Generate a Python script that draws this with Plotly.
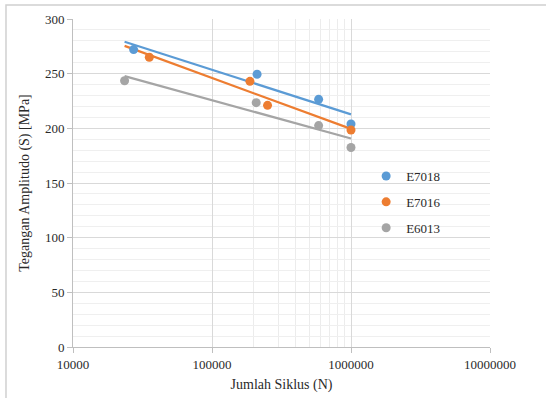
import numpy as np
import plotly.graph_objects as go

series_names = ["E7018", "E7016", "E6013"]
colors = ["#5B9BD5", "#ED7D31", "#A5A5A5"]
cycles_e7018 = [27300, 211000, 585000, 1000000]
stress_e7018 = [272, 249.5, 226.5, 204]
cycles_e7016 = [35400, 187500, 251000, 1000000]
stress_e7016 = [265, 243, 221, 198.5]
cycles_e6013 = [23500, 208000, 585000, 1000000]
stress_e6013 = [243.5, 223.5, 202.5, 182.5]

x_data = [cycles_e7018, cycles_e7016, cycles_e6013]
y_data = [stress_e7018, stress_e7016, stress_e6013]

x_tick_vals = [10000, 100000, 1000000, 10000000]
x_tick_text = ["10000", "100000", "1000000", "10000000"]
x_minor_vals = [200000, 300000, 400000, 500000, 600000, 700000, 800000, 900000]

serif = "Liberation Serif"
txt_col = "#2a2a2a"

fig = go.Figure()

all_x = [v for xs in x_data for v in xs]
x_lo, x_hi = min(all_x), max(all_x)

# trendlines (logarithmic fit), drawn from fitted values
for name, col, xs, ys in zip(series_names, colors, x_data, y_data):
    lx = np.log10(xs)
    slope, intercept = np.polyfit(lx, ys, 1)
    tx = [x_lo, x_hi]
    ty = [slope * np.log10(v) + intercept for v in tx]
    fig.add_trace(go.Scatter(x=tx, y=ty, mode="lines",
                             line=dict(color=col, width=2.2),
                             showlegend=False, hoverinfo="skip"))

for name, col, xs, ys in zip(series_names, colors, x_data, y_data):
    fig.add_trace(go.Scatter(x=xs, y=ys, mode="markers", name=name,
                             legendgroup=name,
                             marker=dict(color=col, size=9)))

fig.update_layout(
    width=546, height=398,
    margin=dict(l=73, r=56, t=19, b=51),
    paper_bgcolor="white", plot_bgcolor="white",
    font=dict(family=serif, size=13, color=txt_col),
    legend=dict(x=0.703, y=0.567, xanchor="left", yanchor="top",
                bgcolor="rgba(0,0,0,0)", tracegroupgap=6,
                font=dict(family=serif, size=13, color=txt_col), itemwidth=30),
    xaxis=dict(type="log", range=[4, 7], automargin=False,
               tickmode="array", tickvals=x_tick_vals, ticktext=x_tick_text,
               showgrid=True, gridcolor="#d9d9d9", gridwidth=1,
               showline=True, linecolor="#bfbfbf", linewidth=1,
               ticks="outside", ticklen=5, tickcolor="#bfbfbf",
               tickfont=dict(family=serif, size=13, color=txt_col),
               zeroline=False,
               minor=dict(tickmode="array", tickvals=x_minor_vals,
                          showgrid=True, gridcolor="#ececec", ticks=""),
               title=dict(text="Jumlah Siklus (N)", standoff=8,
                          font=dict(family=serif, size=14, color=txt_col))),
    yaxis=dict(range=[0, 300], dtick=50, tick0=0, automargin=False,
               showgrid=True, gridcolor="#d9d9d9", gridwidth=1,
               showline=True, linecolor="#bfbfbf", linewidth=1,
               ticks="outside", ticklen=5, tickcolor="#bfbfbf",
               tickfont=dict(family=serif, size=13, color=txt_col),
               zeroline=False,
               minor=dict(dtick=10, showgrid=True, gridcolor="#efefef", ticks=""),
               title=dict(text="Tegangan Amplitudo (S) [MPa]", standoff=12,
                          font=dict(family=serif, size=14, color=txt_col))),
    shapes=[dict(type="rect", xref="paper", yref="paper",
                 x0=-0.1607, x1=1.3, y0=-0.3, y1=1.0427,
                 line=dict(color="#d0d0d0", width=1.5), layer="above")],
)

fig.write_html("out.html",
               config={"displayModeBar": False},
               post_script="document.body.style.margin='0';")
